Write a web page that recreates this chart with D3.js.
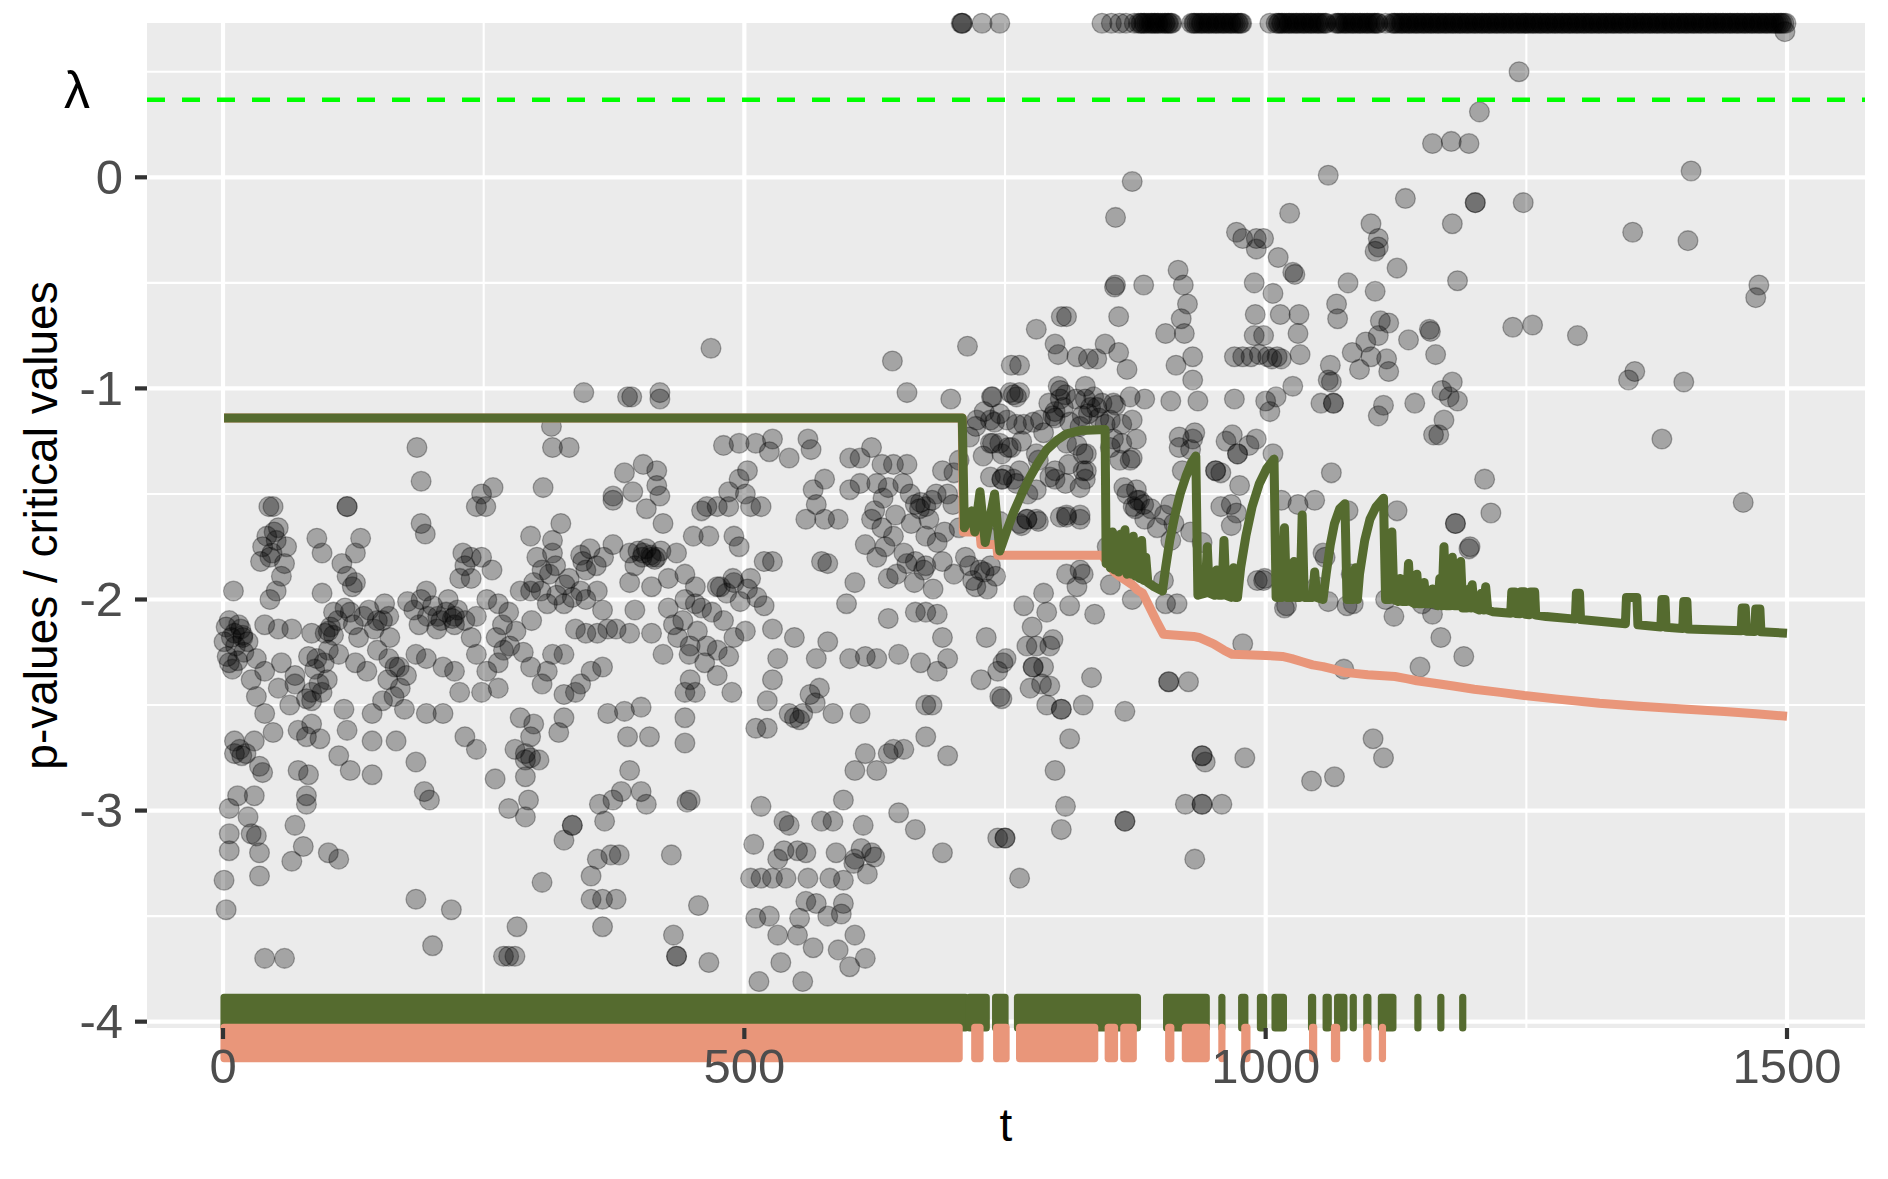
<!DOCTYPE html>
<html><head><meta charset="utf-8">
<script src="https://cdn.jsdelivr.net/npm/d3@7"></script>
<style>
body{margin:0;background:#fff}
svg{display:block}
text{font-family:"Liberation Sans",Arial,Helvetica,sans-serif}
</style>
</head><body>
<svg id="chart" width="1888" height="1179"></svg>
<script>
// ---------------- data ----------------
const xTicks = [0, 500, 1000, 1500];
const xMinorTicks = [250, 750, 1250];
const yTicks = [0, -1, -2, -3, -4];
const yMinorTicks = [0.5, -0.5, -1.5, -2.5, -3.5];
const xTitle = "t";
const yTitle = "p-values / critical values";
const lambdaLabel = "λ";
const lambdaValue = 0.368;
const topValue = 0.73;

// time points whose p-value sits at the top of the plot
const topT = [708,709,728,745,843,852,860,866,874,878,881,884,888,891,894,897,901,904,907,910,
929,932,936,939,943,946,950,953,957,960,964,967,971,974,977,1004,1010,1013,1016,1020,1023,1027,1030,
1034,1037,1041,1044,1048,1051,1055,1058,1067,1070,1074,1077,1081,1084,1088,1091,1095,1098,1102,1105,
1108,1115,1121,1124,1128,1131,1135,1138,1142,1145,1149,1152,1156,1159,1163,1166,1170,1173,1177,1180,
1184,1187,1191,1194,1198,1201,1205,1208,1212,1215,1219,1222,1226,1229,1233,1236,1240,1243,1247,1250,
1254,1257,1261,1264,1268,1271,1275,1278,1282,1285,1289,1292,1296,1299,1303,1306,1310,1313,1317,1320,
1324,1327,1331,1334,1338,1341,1345,1348,1352,1355,1359,1362,1366,1369,1373,1376,1380,1383,1387,1390,
1394,1397,1401,1404,1408,1411,1415,1418,1422,1425,1429,1432,1436,1439,1443,1446,1450,1453,1457,1460,
1464,1467,1471,1474,1478,1481,1485,1488,1492,1495,1499];
const topT2 = [709,880,883,886,890,893,896,899,903,906,909,931,934,938,941,945,948,952,955,959,962,966,969,973,976,
1012,1015,1018,1022,1025,1029,1032,1036,1039,1043,1046,1050,1053,1057,1069,1072,1076,1079,1083,1086,1090,1093,
1097,1100,1104,1107,1123,1126,1130,1133,1137,1140,1144,1147,1151,1154,1158,1161,1165,1168,1172,1175,1179,1182,
1186,1189,1193,1196,1200,1203,1207,1210,1214,1217,1221,1224,1228,1231,1235,1238,1242,1245,1249,1252,1256,1259,
1263,1266,1270,1273,1277,1280,1284,1287,1291,1294,1298,1301,1305,1308,1312,1315,1319,1322,1326,1329,1333,1336,
1340,1343,1347,1350,1354,1357,1361,1364,1368,1371,1375,1378,1382,1385,1389,1392,1396,1399,1403,1406,1410,1413,
1417,1420,1424,1427,1431,1434,1438,1441,1445,1448,1452,1455,1459,1462,1466,1469,1473,1476,1480,1483,1487,1490,
1494,1497];

// [t, log10 p-value] for t < 750
const pointsEarly = [
[346,-1.02],[388,-1.04],[392,-1.04],[419,-1.02],[419,-1.05],[656,-1.02],[698,-1.05],[738,-1.04],
[315,-1.18],[316,-1.28],[332,-1.28],[186,-1.28],[480,-1.27],[495,-1.26],[511,-1.26],[527,-1.24],[524,-1.30],[543,-1.33],[561,-1.24],[564,-1.29],[601,-1.33],[611,-1.33],[622,-1.28],[632,-1.36],[643,-1.36],[656,-1.36],[690,-1.39],[706,-1.34],[722,-1.18],[738,-1.26],[740,-1.16],[730,-1.11],
[190,-1.44],[307,-1.47],[259,-1.47],[248,-1.50],[243,-1.56],[252,-1.56],[48,-1.56],[44,-1.56],[119,-1.56],[119,-1.56],[385,-1.40],[403,-1.36],[416,-1.39],[374,-1.53],[374,-1.51],[393,-1.49],[416,-1.46],[419,-1.51],[406,-1.57],[503,-1.39],[495,-1.43],[485,-1.49],[501,-1.50],[506,-1.56],[464,-1.56],[474,-1.56],[459,-1.58],[485,-1.56],[516,-1.56],[577,-1.43],[566,-1.48],[569,-1.55],[601,-1.48],[611,-1.45],[627,-1.45],[638,-1.47],[659,-1.50],[669,-1.54],[680,-1.53],[559,-1.62],[577,-1.62],[590,-1.62],[664,-1.55],[674,-1.56],[695,-1.50],[701,-1.40],
[190,-1.64],[194,-1.69],[295,-1.70],[316,-1.72],[324,-1.64],[316,-1.78],[422,-1.64],[451,-1.70],[466,-1.70],[490,-1.70],[495,-1.75],[622,-1.62],[632,-1.66],[643,-1.70],[616,-1.74],[635,-1.75],[653,-1.78],[674,-1.70],[685,-1.73],[706,-1.66],[722,-1.62],[732,-1.70],[49,-1.68],[51,-1.72],[61,-1.75],[90,-1.71],[95,-1.78],[114,-1.83],[127,-1.78],[132,-1.71],[45,-1.80],[59,-1.83],[56,-1.89],
[230,-1.78],[238,-1.80],[248,-1.80],[258,-1.86],[232,-1.84],[227,-1.90],[238,-1.90],[301,-1.80],[306,-1.86],[319,-1.84],[343,-1.79],[348,-1.86],[332,-1.90],[374,-1.74],[390,-1.78],[403,-1.78],[411,-1.80],[395,-1.84],[416,-1.80],[435,-1.78],[427,-1.90],[390,-1.92],[411,-1.94],[443,-1.88],[453,-1.94],[474,-1.94],[490,-1.92],[506,-1.90],[519,-1.82],[527,-1.82],[574,-1.82],[580,-1.83],[606,-1.92],[627,-1.80],[638,-1.90],[664,-1.82],[674,-1.84],[690,-1.82],[701,-1.88],[716,-1.84],[722,-1.94],[730,-1.87],[124,-1.94],[51,-1.96],[45,-2.00],[10,-1.96],[119,-1.89],[127,-1.92],[95,-1.97],
[6,-2.10],[11,-2.16],[19,-2.18],[24,-2.20],[40,-2.12],[53,-2.14],[66,-2.14],[85,-2.16],[98,-2.16],[106,-2.17],[106,-2.06],[122,-2.06],[135,-2.08],[148,-2.10],[159,-2.08],[177,-2.01],[190,-2.00],[195,-1.96],[206,-2.08],[214,-2.06],[222,-2.08],[232,-2.10],[243,-2.08],[253,-2.00],[264,-2.02],[274,-2.06],[285,-1.96],[295,-1.96],[311,-2.02],[327,-2.02],[343,-1.96],[348,-2.00],[359,-1.96],[364,-2.05],[377,-2.14],[369,-2.14],[338,-2.14],[348,-2.16],[359,-2.16],[395,-2.05],[411,-2.16],[427,-2.04],[432,-2.12],[443,-2.00],[453,-2.02],[459,-2.04],[469,-2.06],[477,-1.94],[480,-2.10],[490,-2.18],[501,-2.15],[519,-2.03],[527,-2.14],[548,-2.18],[598,-2.02],[638,-2.09],[664,-2.06],[674,-2.06],[685,-2.07],[690,-2.18],[732,-2.18],
[153,-2.10],[101,-2.15],[19,-2.17],[220,-2.09],[222,-2.12],[17,-2.14],[103,-2.13],
[1,-2.20],[6,-2.30],[14,-2.29],[32,-2.28],[40,-2.34],[56,-2.30],[69,-2.36],[90,-2.28],[101,-2.24],[111,-2.26],[127,-2.30],[138,-2.34],[148,-2.24],[159,-2.28],[169,-2.32],[185,-2.26],[195,-2.28],[211,-2.32],[222,-2.34],[238,-2.18],[243,-2.26],[253,-2.34],[264,-2.30],[269,-2.24],[295,-2.32],[311,-2.34],[316,-2.26],[327,-2.26],[353,-2.34],[364,-2.32],[390,-2.16],[422,-2.26],[448,-2.22],[464,-2.22],[474,-2.24],[485,-2.27],[532,-2.28],[569,-2.28],[580,-2.20],[601,-2.28],[616,-2.27],[627,-2.28],[648,-2.26],[669,-2.30],[685,-2.34],[695,-2.28],[727,-2.38],[743,-2.34],[751,-2.28],
[27,-2.38],[32,-2.46],[40,-2.54],[53,-2.42],[64,-2.50],[69,-2.40],[80,-2.47],[85,-2.48],[95,-2.44],[116,-2.52],[143,-2.54],[153,-2.48],[164,-2.46],[174,-2.52],[195,-2.54],[211,-2.54],[227,-2.44],[248,-2.44],[264,-2.42],[285,-2.56],[306,-2.40],[327,-2.45],[343,-2.40],[338,-2.44],[448,-2.38],[443,-2.44],[453,-2.44],[474,-2.36],[488,-2.44],[527,-2.38],[522,-2.48],[543,-2.54],[548,-2.56],[556,-2.54],[585,-2.54],[611,-2.54],[674,-2.50],[680,-2.50],[369,-2.54],[385,-2.53],[401,-2.51],[443,-2.56],[745,-2.46],
[11,-2.67],[16,-2.71],[22,-2.73],[30,-2.67],[48,-2.63],[72,-2.62],[80,-2.65],[85,-2.59],[93,-2.66],[119,-2.62],[143,-2.67],[166,-2.67],[232,-2.65],[243,-2.71],[280,-2.71],[290,-2.73],[295,-2.65],[298,-2.59],[322,-2.63],[327,-2.56],[388,-2.65],[409,-2.65],[443,-2.68],[511,-2.61],[522,-2.61],[553,-2.57],[616,-2.73],[638,-2.73],[653,-2.71],[674,-2.65],[695,-2.74],
[11,-2.73],[18,-2.74],[35,-2.79],[38,-2.82],[72,-2.81],[82,-2.83],[111,-2.74],[122,-2.81],[143,-2.83],[185,-2.77],[193,-2.91],[261,-2.85],[290,-2.76],[295,-2.75],[303,-2.76],[290,-2.84],[390,-2.81],[382,-2.91],[401,-2.91],[606,-2.81],[627,-2.81],[643,-2.71],[595,-2.95],
[6,-2.99],[24,-3.03],[14,-2.93],[30,-2.93],[80,-2.93],[80,-2.97],[69,-3.07],[198,-2.95],[274,-2.99],[290,-3.03],[293,-2.95],[361,-2.97],[366,-3.05],[374,-2.95],[406,-2.97],[445,-2.96],[448,-2.95],[516,-2.98],[538,-3.05],[543,-3.07],[574,-3.05],[585,-3.05],[614,-3.07],[648,-3.01],[664,-3.09],
[6,-3.11],[27,-3.11],[32,-3.12],[6,-3.19],[35,-3.20],[77,-3.17],[66,-3.24],[101,-3.20],[111,-3.23],[335,-3.07],[335,-3.07],[327,-3.14],[359,-3.23],[372,-3.21],[380,-3.21],[430,-3.21],[509,-3.16],[538,-3.19],[551,-3.19],[559,-3.20],[588,-3.20],[606,-3.23],[622,-3.20],[690,-3.20],[532,-3.23],[506,-3.32],[516,-3.32],[527,-3.32],[540,-3.32],[561,-3.32],[582,-3.32],[595,-3.33],[1,-3.33],[35,-3.31],[353,-3.31],[306,-3.34],[743,-3.13],
[3,-3.47],[185,-3.42],[219,-3.47],[353,-3.42],[364,-3.42],[377,-3.42],[456,-3.45],[559,-3.43],[569,-3.44],[595,-3.44],[593,-3.49],[511,-3.51],[524,-3.50],[553,-3.51],[580,-3.50],[282,-3.55],[364,-3.55],
[40,-3.70],[59,-3.70],[201,-3.64],[269,-3.69],[274,-3.69],[280,-3.69],[432,-3.59],[435,-3.69],[435,-3.69],[466,-3.72],[532,-3.59],[551,-3.59],[566,-3.65],[590,-3.66],[606,-3.59],[616,-3.70],[601,-3.74],[535,-3.72],[514,-3.81],[556,-3.81],
[468,-0.81],[642,-0.87],[714,-0.80]
];

// extra points in the dense clusters
const pointsDense = [
[3,-2.13],[8,-2.18],[12,-2.22],[15,-2.12],[20,-2.25],[9,-2.33],[4,-2.27],
[38,-1.75],[42,-1.70],[47,-1.78],[53,-1.66],[36,-1.82],
[82,-2.27],[88,-2.33],[92,-2.40],[97,-2.30],[85,-2.44],[100,-2.38],
[110,-2.10],[117,-2.04],[125,-2.12],[130,-2.18],[140,-2.05],[145,-2.14],[155,-2.02],[160,-2.18],
[158,-2.38],[165,-2.32],[170,-2.42],[176,-2.36],
[183,-2.05],[188,-2.12],[196,-2.08],[201,-2.03],[205,-2.14],[209,-2.10],[216,-2.00],[225,-2.05],
[262,-2.18],[268,-2.12],[275,-2.22],[281,-2.15],[288,-2.25],[296,-2.10],
[298,-1.92],[305,-1.96],[313,-1.88],[320,-1.98],[328,-1.93],[335,-1.99],
[345,-1.82],[352,-1.76],[358,-1.84],[365,-1.80],
[398,-1.77],[402,-1.80],[406,-1.76],[410,-1.79],[414,-1.81],[420,-1.77],
[436,-2.18],[441,-2.10],[447,-2.26],[455,-2.15],[462,-2.30],
[483,-1.97],[489,-1.90],[496,-2.01],[503,-1.95],[512,-1.99],
[563,-2.45],[568,-2.49],[572,-2.42],
[605,-3.25],[612,-3.18],[618,-3.30],[625,-3.22],
[625,-1.58],[633,-1.52],[645,-1.60],[652,-1.45],[660,-1.64],[668,-1.57],[677,-1.62],[684,-1.50],[692,-1.68],[700,-1.55],
[646,-1.88],[656,-1.83],[663,-1.92],[672,-1.86],[681,-1.95],
[712,-1.80],[719,-1.91],[726,-1.86],[733,-1.95],[741,-1.89],
[792,-1.07],[798,-1.11],[806,-1.09],[812,-1.16],[818,-1.05],[824,-1.13],[832,-1.09],[840,-1.14],
[884,-1.62],[890,-1.57],[896,-1.66],[903,-1.60],[912,-1.64],
[1002,-0.85],[1006,-0.86],[1011,-0.85],[1015,-0.86],
[962,-1.25],[968,-1.22],[984,-1.27],
[1083,-0.83],[1090,-0.91],[1096,-0.78]
];

// [t, log10 p-value] for t >= 700 (below the top row)
const pointsLate = [
[716,-1.23],[723,-1.15],[729,-1.32],[736,-1.15],[736,-1.26],[736,-1.42],[736,-1.84],[737,-1.04],
[758,-1.03],[764,-1.02],[803,-1.01],[808,-1.03],[835,-1.04],[854,-1.07],[838,-1.09],[752,-1.15],[768,-1.17],[784,-1.15],[796,-1.13],[787,-1.21],[819,-1.27],[828,-1.31],[860,-1.34],[870,-1.34],[753,-1.28],[747,-1.31],[780,-1.31],[747,-1.43],[747,-1.43],[758,-1.43],[764,-1.39],[793,-1.42],[808,-1.45],[822,-1.47],[828,-1.39],[864,-1.47],[873,-1.56],[867,-1.50],[780,-1.48],[771,-1.62],[771,-1.62],[764,-1.64],[780,-1.62],[803,-1.61],[809,-1.61],[822,-1.62],[854,-1.72],[822,-1.86],[809,-1.88],[848,-1.75],[876,-1.48],[854,-1.24],[822,-1.18],[809,-1.26],[846,-1.17],[862,-1.26],[876,-1.24],
[745,-1.12],[761,-1.17],[777,-1.16],[798,-1.14],[830,-1.12],[856,-1.08],[870,-1.04],[851,-1.15],[862,-1.17],[872,-1.15],[745,-1.26],[756,-1.28],[766,-1.25],[782,-1.34],[798,-1.39],[811,-1.36],[825,-1.31],[825,-1.39],[827,-1.43],[851,-1.28],[872,-1.33],[750,-1.41],[761,-1.45],[772,-1.50],[798,-1.43],[809,-1.60],[822,-1.60],[766,-1.65],[782,-1.63],[745,-1.63],[877,-1.53],[883,-1.55],[875,-1.57],[755,-1.02],[761,-1.04],[801,-0.99],[803,-1.05],[827,-1.05],[843,-1.07],[827,-0.99],[884,-1.05],
[1205,0.31],[1160,0.16],[1178,0.17],[1195,0.16],[1060,0.01],[872,-0.02],[1408,0.03],[856,-0.19],[1134,-0.10],[1201,-0.12],[1201,-0.12],[1247,-0.12],[1023,-0.17],[1179,-0.22],[1101,-0.22],[1352,-0.26],[1405,-0.30],[972,-0.26],[978,-0.29],[991,-0.29],[998,-0.29],[991,-0.34],[1108,-0.29],[1108,-0.33],[1105,-0.35],[1012,-0.38],[1126,-0.43],[1028,-0.46],[1026,-0.45],[916,-0.44],[856,-0.51],[855,-0.52],[883,-0.51],[921,-0.51],[989,-0.50],[1079,-0.50],[1105,-0.54],[1007,-0.55],[1184,-0.49],[1473,-0.51],[1470,-0.57],[925,-0.60],[1068,-0.60],[990,-0.65],[1014,-0.65],[1032,-0.65],[804,-0.66],[809,-0.66],[859,-0.66],[919,-0.67],[1069,-0.67],[1110,-0.68],[1118,-0.69],[1157,-0.72],[1158,-0.73],[1237,-0.71],[1256,-0.70],[1299,-0.75],[780,-0.72],[904,-0.74],[922,-0.74],[989,-0.75],[998,-0.75],[1031,-0.74],[1108,-0.75],[1137,-0.77],[798,-0.79],[846,-0.79],[859,-0.83],[1163,-0.84],[986,-0.85],[978,-0.85],[994,-0.84],[970,-0.85],[930,-0.85],[1033,-0.84],[1101,-0.85],[1116,-0.86],[1118,-0.92],[756,-0.89],[764,-0.89],[801,-0.84],[819,-0.85],[830,-0.86],[838,-0.86],[867,-0.91],[914,-0.89],[1062,-0.89],[1354,-0.92],[1348,-0.96],[1401,-0.97],[930,-0.96],[1060,-0.96],[1063,-0.97],[1065,-1.07],[1065,-1.07],[1179,-0.97],[1169,-1.01],[1176,-1.04],[1184,-1.06],[1171,-1.15],[1026,-0.99],[1010,-1.04],[1000,-1.06],[1004,-1.11],[1113,-1.08],[1108,-1.13],[1143,-1.07],[909,-1.06],[935,-1.06],[970,-1.05],[1161,-1.22],[1166,-1.22],[1380,-1.24],[1063,-1.40],[1210,-1.43],[1458,-1.54],[1216,-1.59],[1182,-1.64],[1182,-1.64],[1195,-1.76],[1168,-2.18],[1190,-2.27],[978,-2.21],
[909,-1.55],[930,-1.24],[917,-1.28],[920,-1.39],[952,-1.39],[952,-1.39],[957,-1.40],[973,-1.31],[973,-1.31],[975,-1.46],[991,-1.24],[1007,-1.31],[967,-1.55],[957,-1.56],[1015,-1.53],[1031,-1.55],[1047,-1.53],[928,-1.68],[909,-1.72],[967,-1.65],[1057,-1.80],[999,-1.90],[904,-2.02],[915,-2.02],[1018,-2.04],[1084,-2.02],[1060,-2.01],[1123,-2.08],[1150,-2.02],[872,-2.00],
[825,-1.88],[851,-1.93],[819,-1.94],[902,-1.91],[998,-1.91],[768,-2.03],[787,-1.97],[790,-2.06],[812,-2.03],[836,-2.07],[776,-2.13],[771,-2.22],[780,-2.22],[793,-2.22],[796,-2.19],[777,-2.32],[777,-2.32],[787,-2.32],[774,-2.42],[785,-2.40],[793,-2.41],[790,-2.50],[804,-2.52],[804,-2.52],[825,-2.50],[812,-2.66],[798,-2.81],[808,-2.98],[804,-3.09],[865,-3.05],[865,-3.05],[764,-3.32],[750,-3.13],[750,-3.13],[748,-2.30],[747,-2.47],
[833,-2.37],[907,-2.39],[907,-2.39],[926,-2.39],[865,-2.53],[939,-2.74],[939,-2.74],[942,-2.77],[980,-2.75],[1044,-2.86],[1066,-2.84],[923,-2.97],[939,-2.97],[939,-2.97],[958,-2.97],[932,-3.23],[1075,-2.33],[1078,-2.03],
[917,-1.23],[932,-1.21],[928,-1.29],[879,-1.53],[972,-1.59],[1079,-1.58],[1126,-1.58],[1053,-1.07],[939,-1.73],[1055,-1.78],[1082,-1.88],[1049,-1.94],[1115,-2.00],[1196,-1.75],[1163,-2.00],[1160,-2.07],[1148,-2.32],[1020,-2.03],[992,-1.91],
[1243,0.50],[1498,0.69],[1103,-2.66],[1113,-2.75]
];

// critical value curves [t, log10 critical value]
const greenCritical = [
[1,-1.14],[709,-1.14],[711,-1.66],[718,-1.58],[721,-1.68],[726,-1.49],[731,-1.73],[740,-1.50],[745,-1.77],[752,-1.67],[758,-1.59],[766,-1.50],[774,-1.42],[782,-1.35],[790,-1.29],[800,-1.245],[809,-1.215],[822,-1.20],[846,-1.195],[847,-1.83],
[849,-1.70],[851,-1.85],[853,-1.68],[855,-1.86],[857,-1.72],[859,-1.87],[861,-1.69],[863,-1.86],[865,-1.67],[867,-1.88],[869,-1.73],[871,-1.88],[873,-1.70],[875,-1.89],[877,-1.76],[879,-1.90],[881,-1.72],[883,-1.91],[885,-1.80],[887,-1.92],[893,-1.94],[901,-1.96],
[904,-1.85],[908,-1.72],[913,-1.60],[918,-1.50],[924,-1.41],[929,-1.35],[933,-1.32],[935,-1.98],
[942,-1.97],[944,-1.75],[946,-1.97],[951,-1.98],[953,-1.86],[955,-1.98],[958,-1.98],[960,-1.72],[962,-1.98],[967,-1.99],[969,-1.85],[971,-1.99],[973,-1.99],
[976,-1.85],[981,-1.70],[987,-1.56],[994,-1.45],[1001,-1.38],[1008,-1.335],[1010,-1.99],
[1016,-1.99],[1018,-1.66],[1020,-1.99],[1025,-1.99],[1027,-1.82],[1029,-1.99],[1033,-1.99],[1035,-1.60],[1037,-1.99],[1045,-1.99],[1047,-1.87],[1049,-1.99],[1055,-2.00],
[1058,-1.88],[1062,-1.74],[1066,-1.64],[1071,-1.57],[1076,-1.546],[1078,-2.00],[1084,-2.00],[1086,-1.85],[1088,-2.00],
[1090,-1.88],[1095,-1.72],[1100,-1.62],[1106,-1.56],[1113,-1.52],[1115,-2.00],
[1119,-2.00],[1121,-1.68],[1123,-2.00],[1127,-2.01],[1129,-1.90],[1131,-2.01],[1135,-2.01],[1137,-1.83],[1139,-2.01],[1143,-2.02],[1145,-1.88],[1147,-2.02],[1150,-2.02],[1152,-1.92],[1154,-2.02],[1158,-2.02],[1160,-1.95],[1162,-2.02],[1165,-2.03],[1167,-1.90],[1169,-2.03],[1171,-1.75],[1173,-2.03],[1177,-2.03],[1179,-1.80],[1181,-2.03],[1185,-2.03],[1187,-1.82],[1189,-2.04],[1193,-2.04],[1195,-1.95],[1197,-2.04],[1198,-1.93],[1200,-2.04],[1205,-2.05],[1207,-1.97],[1209,-2.05],[1211,-1.94],[1213,-2.05],[1218,-2.058],
[1235,-2.065],[1236,-1.965],[1239,-1.965],[1240,-2.066],[1244,-2.068],[1245,-1.963],[1248,-1.963],[1249,-2.07],[1253,-2.072],[1254,-1.965],[1258,-1.965],[1259,-2.074],[1269,-2.081],[1297,-2.093],[1298,-1.97],[1301,-1.97],[1302,-2.095],[1345,-2.115],[1346,-1.99],[1356,-1.99],[1357,-2.12],[1379,-2.13],[1380,-2.00],[1383,-2.00],[1384,-2.132],[1400,-2.138],[1401,-2.01],[1404,-2.01],[1405,-2.14],[1456,-2.148],[1457,-2.04],[1460,-2.04],[1461,-2.15],[1469,-2.152],[1470,-2.045],[1474,-2.045],[1475,-2.153],[1500,-2.16]
];
const orangeCritical = [
[1,-1.14],[709,-1.14],[710,-1.68],[726,-1.68],[727,-1.74],[742,-1.74],[743,-1.79],[843,-1.79],[846,-1.81],[850,-1.84],[855,-1.87],[860,-1.89],[866,-1.91],[872,-1.93],[877,-1.955],[882,-1.97],[888,-2.03],[895,-2.10],[902,-2.165],[931,-2.175],[936,-2.18],[950,-2.21],[960,-2.24],[968,-2.26],[1000,-2.265],[1016,-2.27],[1025,-2.28],[1035,-2.295],[1045,-2.31],[1055,-2.318],[1065,-2.33],[1075,-2.345],[1085,-2.35],[1098,-2.357],[1124,-2.365],[1135,-2.375],[1145,-2.385],[1162,-2.397],[1180,-2.41],[1200,-2.425],[1225,-2.44],[1248,-2.455],[1280,-2.472],[1320,-2.492],[1355,-2.505],[1400,-2.519],[1440,-2.531],[1470,-2.541],[1500,-2.553]
];

// runs of time points with a rejection [first t, last t]
const greenRejections = [[1,712],[716,732],[741,750],[762,877],[905,943],[958,958],[977,980],[995,998],[1009,1017],[1044,1045],[1058,1060],[1069,1075],[1084,1084],[1097,1098],[1111,1122],[1146,1146],[1168,1168],[1189,1189]];
const orangeRejections = [[1,706],[721,726],[742,751],[764,836],[849,855],[864,873],[907,909],[923,943],[958,958],[980,982],[1045,1046],[1066,1068],[1097,1098],[1112,1112]];

// ---------------- layout & style ----------------
const panel = {left:147, right:1865, top:23, bottom:1028};
const GREEN = "#556B2F", SALMON = "#E9967A";
const rugGreenSpan = [-3.885, -4.03];
const rugSalmonSpan = [-4.027, -4.175];

const svg = d3.select("#chart");
const x = d3.scaleLinear().domain([-72.9, 1574.8]).range([panel.left, panel.right]);
const y = d3.scaleLinear().domain([-4.03, 0.731]).range([panel.bottom, panel.top]);

svg.append("rect").attr("x",panel.left).attr("y",panel.top)
  .attr("width",panel.right-panel.left).attr("height",panel.bottom-panel.top).attr("fill","#EBEBEB");

const grid = svg.append("g");
grid.selectAll(".ymin").data(yMinorTicks).join("line")
  .attr("x1",panel.left).attr("x2",panel.right).attr("y1",d=>y(d)).attr("y2",d=>y(d))
  .attr("stroke","#fff").attr("stroke-width",2.1);
grid.selectAll(".xmin").data(xMinorTicks).join("line")
  .attr("y1",panel.top).attr("y2",panel.bottom).attr("x1",d=>x(d)).attr("x2",d=>x(d))
  .attr("stroke","#fff").attr("stroke-width",2.1);
grid.selectAll(".ymaj").data(yTicks).join("line")
  .attr("x1",panel.left).attr("x2",panel.right).attr("y1",d=>y(d)).attr("y2",d=>y(d))
  .attr("stroke","#fff").attr("stroke-width",4.2);
grid.selectAll(".xmaj").data(xTicks).join("line")
  .attr("y1",panel.top).attr("y2",panel.bottom).attr("x1",d=>x(d)).attr("x2",d=>x(d))
  .attr("stroke","#fff").attr("stroke-width",4.2);

// points
const allPoints = pointsEarly.concat(pointsDense, pointsLate,
  topT.map(t=>[t, topValue]), topT2.map(t=>[t, topValue]));
svg.append("g").selectAll("circle").data(allPoints).join("circle")
  .attr("cx",d=>x(d[0])).attr("cy",d=>y(d[1])).attr("r",9.9)
  .attr("fill","#000").attr("fill-opacity",0.3)
  .attr("stroke","#000").attr("stroke-opacity",0.3).attr("stroke-width",1.3);

// critical value lines
const line = d3.line().x(d=>x(d[0])).y(d=>y(d[1]));
svg.append("path").datum(orangeCritical).attr("d",line).attr("fill","none")
  .attr("stroke",SALMON).attr("stroke-width",9).attr("stroke-linejoin","round");
svg.append("path").datum(greenCritical).attr("d",line).attr("fill","none")
  .attr("stroke",GREEN).attr("stroke-width",9).attr("stroke-linejoin","round");

// rugs of rejections
function rug(data, span, color){
  const half = 3.6;
  svg.append("g").selectAll("rect").data(data).join("rect")
    .attr("x",d=>x(d[0])-half).attr("width",d=>x(d[1])-x(d[0])+2*half)
    .attr("y",y(span[0])-half).attr("height",y(span[1])-y(span[0])+2*half)
    .attr("rx",half).attr("ry",half).attr("fill",color);
}
rug(greenRejections, rugGreenSpan, GREEN);
rug(orangeRejections, rugSalmonSpan, SALMON);

// lambda line
svg.append("line").attr("x1",panel.left).attr("x2",panel.right)
  .attr("y1",y(lambdaValue)).attr("y2",y(lambdaValue))
  .attr("stroke","#00FF00").attr("stroke-width",4.5).attr("stroke-dasharray","18,17");

// axes
const ax = svg.append("g");
ax.selectAll(".yt").data(yTicks).join("line")
  .attr("x1",panel.left-12).attr("x2",panel.left).attr("y1",d=>y(d)).attr("y2",d=>y(d))
  .attr("stroke","#333333").attr("stroke-width",4.2);
ax.selectAll(".yl").data(yTicks).join("text")
  .attr("x",panel.left-24).attr("y",d=>y(d)).attr("dy","0.34em")
  .attr("text-anchor","end").attr("font-size",49).attr("fill","#4D4D4D")
  .text(d=>String(d));
ax.selectAll(".xt").data(xTicks).join("line")
  .attr("y1",panel.bottom).attr("y2",panel.bottom+11).attr("x1",d=>x(d)).attr("x2",d=>x(d))
  .attr("stroke","#333333").attr("stroke-width",4.2);
ax.selectAll(".xl").data(xTicks).join("text")
  .attr("x",d=>x(d)).attr("y",1083)
  .attr("text-anchor","middle").attr("font-size",49).attr("fill","#4D4D4D")
  .text(d=>String(d));

// titles
svg.append("text").attr("x",(panel.left+panel.right)/2).attr("y",1141)
  .attr("text-anchor","middle").attr("font-size",46).attr("fill","#000").text(xTitle);
svg.append("text").attr("transform",`translate(57,${(panel.top+panel.bottom)/2}) rotate(-90)`)
  .attr("text-anchor","middle").attr("font-size",46).attr("fill","#000").text(yTitle);
svg.append("text").attr("x",77).attr("y",108).attr("text-anchor","middle")
  .attr("font-size",52).attr("fill","#000").text(lambdaLabel);
</script>
</body></html>
